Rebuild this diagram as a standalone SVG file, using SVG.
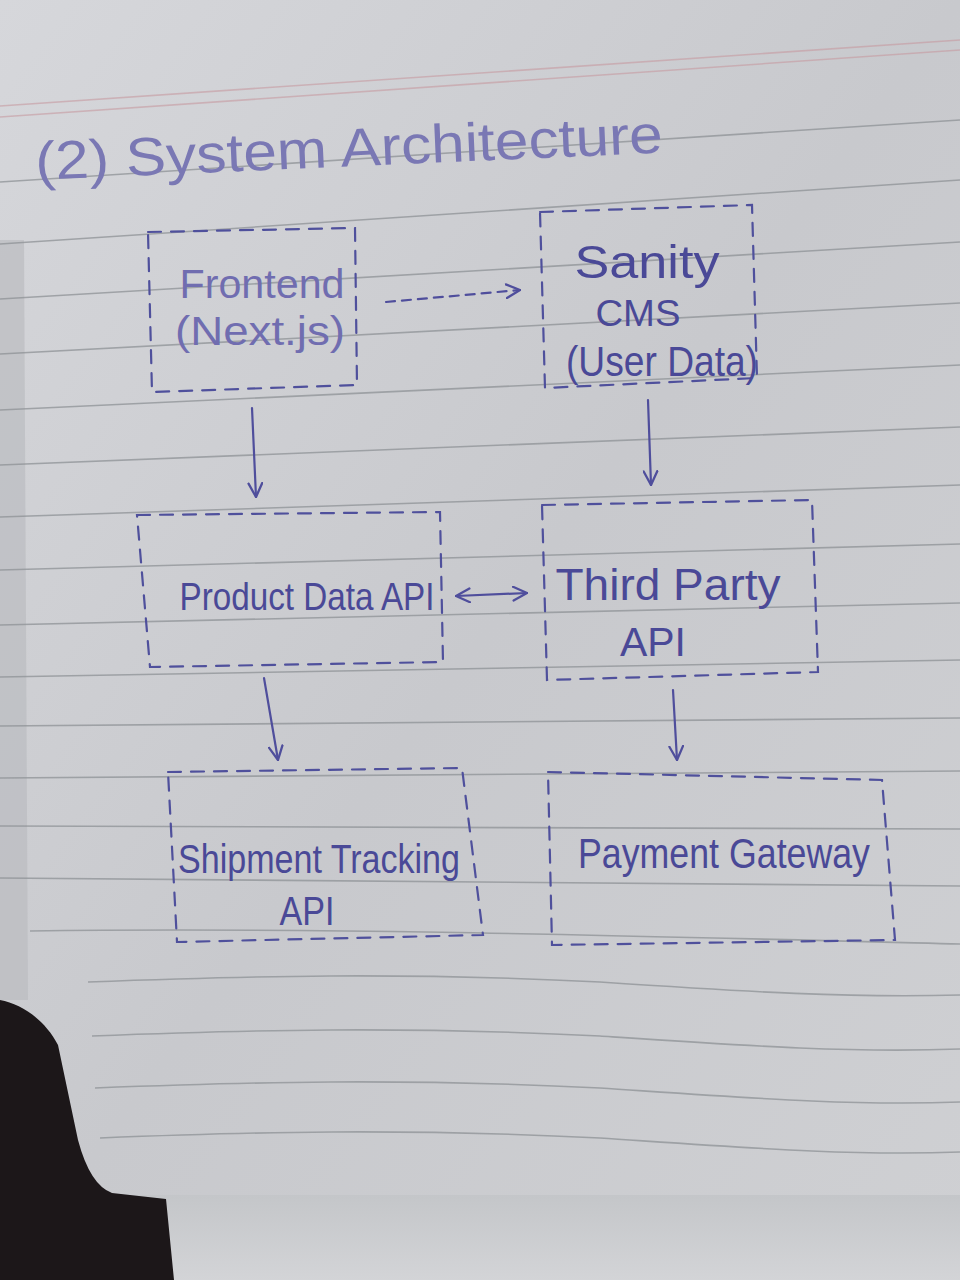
<svg xmlns="http://www.w3.org/2000/svg" width="960" height="1280" viewBox="0 0 960 1280">
  <defs>
    <linearGradient id="paper" x1="0" y1="0" x2="1" y2="1">
      <stop offset="0" stop-color="#d6d7db"/>
      <stop offset="0.5" stop-color="#c8c9cd"/>
      <stop offset="1" stop-color="#cfd0d3"/>
    </linearGradient>
    <linearGradient id="under" x1="0" y1="0" x2="0" y2="1">
      <stop offset="0" stop-color="#c4c6c9"/>
      <stop offset="1" stop-color="#d3d4d7"/>
    </linearGradient>
    <marker id="arrow" viewBox="0 0 14 14" refX="13" refY="7" markerWidth="16" markerHeight="16" markerUnits="userSpaceOnUse" orient="auto-start-reverse">
      <path d="M1,1 L13,7 L1,13" fill="none" stroke="#4f4e9c" stroke-width="2" stroke-linecap="round" stroke-linejoin="round"/>
    </marker>
    <style>
      .rule { fill: none; stroke: #8e9196; stroke-width: 1.6; opacity: 0.75; }
      .red { fill: none; stroke: #c79aa0; stroke-width: 1.6; opacity: 0.6; }
      .box { fill: none; stroke: #4f509c; stroke-width: 2.2; stroke-dasharray: 13 10; stroke-linecap: round; }
      .lbl { font-family: "Liberation Sans", "DejaVu Sans", sans-serif; fill: #4a4997; text-anchor: middle; }
      .faint { fill: #706db0; }
      .title { font-family: "Liberation Sans", "DejaVu Sans", sans-serif; fill: #7a78b4; }
      .edge { fill: none; stroke: #4f4e9c; stroke-width: 2.2; stroke-linecap: round; }
      .dash { stroke-dasharray: 9 7; }
    </style>
  </defs>

  <!-- paper background -->
  <rect x="0" y="0" width="960" height="1280" fill="url(#paper)"/>
  <rect x="0" y="1195" width="960" height="85" fill="url(#under)"/>
  <path d="M0,240 L24,240 L28,1000 L0,1000 Z" fill="#babcc0" opacity="0.7"/>
  <path d="M0,1000 C22,1004 45,1020 58,1045 L78,1140 Q90,1185 112,1193 L166,1199 L174,1280 L0,1280 Z" fill="#1c1719"/>

  <!-- ruled lines -->
  <g id="rules">
    <path class="red" d="M0,117 L960,50"/>
    <path class="red" d="M0,106 L960,40" opacity="0.35"/>
    <path class="rule" d="M0,182 L960,120"/>
    <path class="rule" d="M0,244 L960,180"/>
    <path class="rule" d="M0,299 L960,242"/>
    <path class="rule" d="M0,354 L960,303"/>
    <path class="rule" d="M0,410 L960,365"/>
    <path class="rule" d="M0,465 L960,427"/>
    <path class="rule" d="M0,517 L960,485"/>
    <path class="rule" d="M0,570 L960,544"/>
    <path class="rule" d="M0,625 L960,603"/>
    <path class="rule" d="M0,677 L960,660"/>
    <path class="rule" d="M0,726 L960,718"/>
    <path class="rule" d="M0,778 L960,771"/>
    <path class="rule" d="M0,826 L960,829"/>
    <path class="rule" d="M0,878 L960,886"/>
    <path class="rule" d="M30,931 C300,927 600,935 960,944"/>
    <path class="rule" d="M88,982 C250,976 400,972 600,982 C750,992 850,998 960,995"/>
    <path class="rule" d="M92,1036 C250,1030 400,1026 600,1036 C750,1046 850,1053 960,1049"/>
    <path class="rule" d="M95,1088 C250,1082 400,1078 600,1088 C750,1098 850,1106 960,1102"/>
    <path class="rule" d="M100,1138 C250,1132 400,1128 600,1138 C750,1148 850,1156 960,1152"/>
  </g>

  <!-- title -->
  <text class="title" x="36" y="180" font-size="54" textLength="628" lengthAdjust="spacingAndGlyphs" transform="rotate(-2.5 36 180)">(2) System Architecture</text>

  <!-- nodes -->
  <g id="frontend">
    <path class="box" d="M148,232 L355,228 L357,385 L152,392 Z"/>
    <text class="lbl faint" x="262" y="298" font-size="40" textLength="165" lengthAdjust="spacingAndGlyphs">Frontend</text>
    <text class="lbl faint" x="260" y="345" font-size="40" textLength="170" lengthAdjust="spacingAndGlyphs">(Next.js)</text>
  </g>

  <g id="sanity">
    <path class="box" d="M540,212 L752,205 L757,378 L545,388 Z"/>
    <text class="lbl" x="647" y="278" font-size="46" textLength="145" lengthAdjust="spacingAndGlyphs">Sanity</text>
    <text class="lbl" x="638" y="326" font-size="36" textLength="85" lengthAdjust="spacingAndGlyphs">CMS</text>
    <text class="lbl" x="662" y="376" font-size="42" textLength="192" lengthAdjust="spacingAndGlyphs">(User Data)</text>
  </g>

  <g id="product-data-api">
    <path class="box" d="M137,515 L440,512 L443,662 L150,667 Z"/>
    <text class="lbl" x="307" y="610" font-size="38" textLength="255" lengthAdjust="spacingAndGlyphs">Product Data API</text>
  </g>

  <g id="third-party-api">
    <path class="box" d="M542,505 L812,500 L818,672 L547,680 Z"/>
    <text class="lbl" x="668" y="600" font-size="44" textLength="225" lengthAdjust="spacingAndGlyphs">Third Party</text>
    <text class="lbl" x="653" y="656" font-size="40" textLength="66" lengthAdjust="spacingAndGlyphs">API</text>
  </g>

  <g id="shipment-tracking-api">
    <path class="box" d="M168,772 L462,768 L483,935 L177,942 Z"/>
    <text class="lbl" x="319" y="873" font-size="40" textLength="282" lengthAdjust="spacingAndGlyphs">Shipment Tracking</text>
    <text class="lbl" x="307" y="925" font-size="40" textLength="55" lengthAdjust="spacingAndGlyphs">API</text>
  </g>

  <g id="payment-gateway">
    <path class="box" d="M548,772 L882,780 L895,940 L552,945 Z"/>
    <text class="lbl" x="724" y="868" font-size="42" textLength="292" lengthAdjust="spacingAndGlyphs">Payment Gateway</text>
  </g>

  <!-- connectors -->
  <g id="connectors">
    <path class="edge dash" d="M386,302 L520,290" marker-end="url(#arrow)"/>
    <path class="edge" d="M252,408 L256,497" marker-end="url(#arrow)"/>
    <path class="edge" d="M648,400 L651,485" marker-end="url(#arrow)"/>
    <path class="edge" d="M456,596 L527,593" marker-start="url(#arrow)" marker-end="url(#arrow)"/>
    <path class="edge" d="M264,678 L278,760" marker-end="url(#arrow)"/>
    <path class="edge" d="M673,690 L677,760" marker-end="url(#arrow)"/>
  </g>
</svg>
